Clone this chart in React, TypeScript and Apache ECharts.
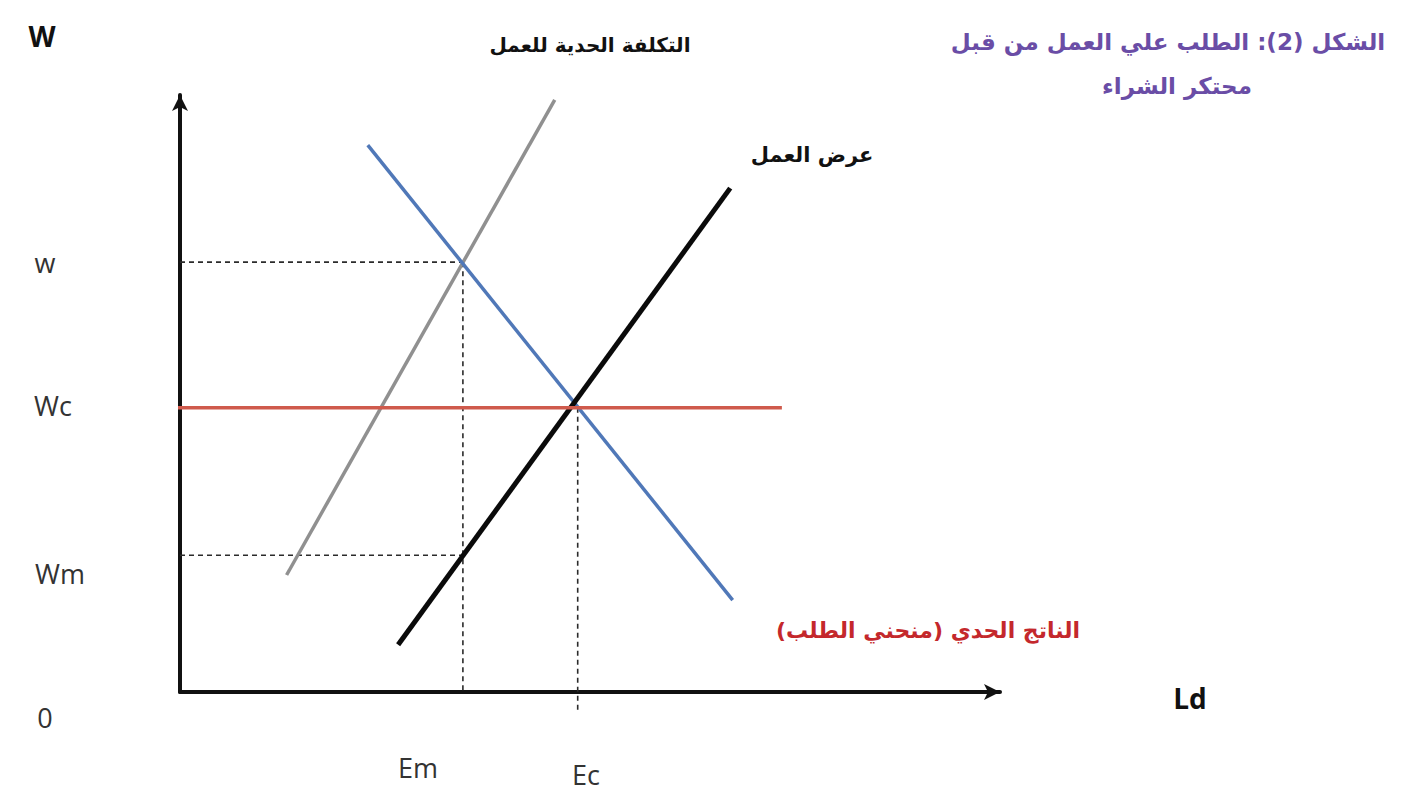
import React, { useEffect, useRef } from "react";
import * as echarts from "echarts";

// Curve end points in (labour, wage) units
const marginalCostOfLabour: number[][] = [[1.3, 1.96], [4.57, 9.92]];
const labourDemand: number[][] = [[2.29, 9.16], [6.74, 1.54]];
const labourSupply: number[][] = [[2.66, 0.79], [6.71, 8.44]];

// Key levels
const wageLevels = { w: 7.2, wc: 4.76, wm: 2.29 };
const employmentLevels = { em: 3.45, ec: 4.85 };
const wcSpan = [-0.06, 7.34];

const axisLabels = ["w", "Wc", "Wm", "0"];
const xLabels = ["Em", "Ec"];

const arabicFont = "DejaVu Sans, Noto Sans, sans-serif";
const latinFont = "Open Sans, Lato, sans-serif";

export default function App() {
  const ref = useRef<HTMLDivElement>(null);

  useEffect(() => {
    if (!ref.current) return;
    const chart = echarts.init(ref.current, undefined, { renderer: "svg" });

    const dashed = {
      color: "#2b2b2b",
      width: 1.6,
      type: [5, 4] as number[],
    };
    const seg = (data: number[][], lineStyle: any, z = 2) => ({
      type: "line",
      data,
      symbol: "none",
      clip: false,
      silent: true,
      z,
      lineStyle,
    });

    const { w, wc, wm } = wageLevels;
    const { em, ec } = employmentLevels;

    chart.setOption({
      animation: false,
      backgroundColor: "#ffffff",
      grid: { left: 180, top: 95, right: 412, bottom: 108 },
      xAxis: {
        type: "value",
        min: 0,
        max: 10,
        axisLine: {
          show: true,
          symbol: ["none", "arrow"],
          symbolSize: [12, 16],
          lineStyle: { color: "#111", width: 4 },
        },
        axisTick: { show: false },
        axisLabel: { show: false },
        splitLine: { show: false },
      },
      yAxis: {
        type: "value",
        min: 0,
        max: 10,
        axisLine: {
          show: true,
          symbol: ["none", "arrow"],
          symbolSize: [12, 16],
          lineStyle: { color: "#111", width: 4 },
        },
        axisTick: { show: false },
        axisLabel: { show: false },
        splitLine: { show: false },
      },
      series: [
        seg([[0, w], [em, w]], dashed, 1),
        seg([[em, w], [em, 0]], dashed, 1),
        seg([[0, wm], [em, wm]], dashed, 1),
        seg([[ec, wc], [ec, -0.3]], dashed, 1),
        seg(marginalCostOfLabour, { color: "#909090", width: 3.5 }),
        seg(labourDemand, { color: "#5078b8", width: 3.5 }, 3),
        seg(labourSupply, { color: "#0a0a0a", width: 5 }, 4),
        seg([[wcSpan[0], wc], [wcSpan[1], wc]], { color: "#cf5a4c", width: 3.5 }, 5),
      ],
      graphic: [
        { type: "text", x: 42, y: 36, style: { text: "W", font: `bold 28px ${latinFont}`, fill: "#111", align: "center", verticalAlign: "middle" } },
        { type: "text", x: 45, y: 262, style: { text: axisLabels[0], font: `27px ${latinFont}`, fill: "#333", align: "center", verticalAlign: "middle" } },
        { type: "text", x: 53, y: 405, style: { text: axisLabels[1], font: `27px ${latinFont}`, fill: "#333", align: "center", verticalAlign: "middle" } },
        { type: "text", x: 60, y: 573, style: { text: axisLabels[2], font: `27px ${latinFont}`, fill: "#333", align: "center", verticalAlign: "middle" } },
        { type: "text", x: 45, y: 717, style: { text: axisLabels[3], font: `27px ${latinFont}`, fill: "#333", align: "center", verticalAlign: "middle" } },
        { type: "text", x: 418, y: 767, style: { text: xLabels[0], font: `27px ${latinFont}`, fill: "#333", align: "center", verticalAlign: "middle" } },
        { type: "text", x: 586, y: 774, style: { text: xLabels[1], font: `27px ${latinFont}`, fill: "#333", align: "center", verticalAlign: "middle" } },
        { type: "text", x: 1190, y: 698, style: { text: "Ld", font: `bold 28px ${latinFont}`, fill: "#111", align: "center", verticalAlign: "middle" } },
        { type: "text", x: 590, y: 45, style: { text: "التكلفة الحدية للعمل", font: `bold 20px ${arabicFont}`, fill: "#111", align: "center", verticalAlign: "middle" } },
        { type: "text", x: 812, y: 155, style: { text: "عرض العمل", font: `bold 21px ${arabicFont}`, fill: "#111", align: "center", verticalAlign: "middle" } },
        { type: "text", x: 928, y: 630, style: { text: "الناتج الحدي (منحني الطلب)", font: `bold 22px ${arabicFont}`, fill: "#c4282c", align: "center", verticalAlign: "middle" } },
        { type: "text", x: 1168, y: 42, style: { text: "الشكل (2): الطلب علي العمل من قبل", font: `bold 23px ${arabicFont}`, fill: "#6a4da6", align: "center", verticalAlign: "middle" } },
        { type: "text", x: 1177, y: 86, style: { text: "محتكر الشراء", font: `bold 23px ${arabicFont}`, fill: "#6a4da6", align: "center", verticalAlign: "middle" } },
      ],
    });

    return () => chart.dispose();
  }, []);

  return (
    <div
      ref={ref}
      style={{ position: "fixed", left: 0, top: 0, width: 1412, height: 800, background: "#fff" }}
    />
  );
}
